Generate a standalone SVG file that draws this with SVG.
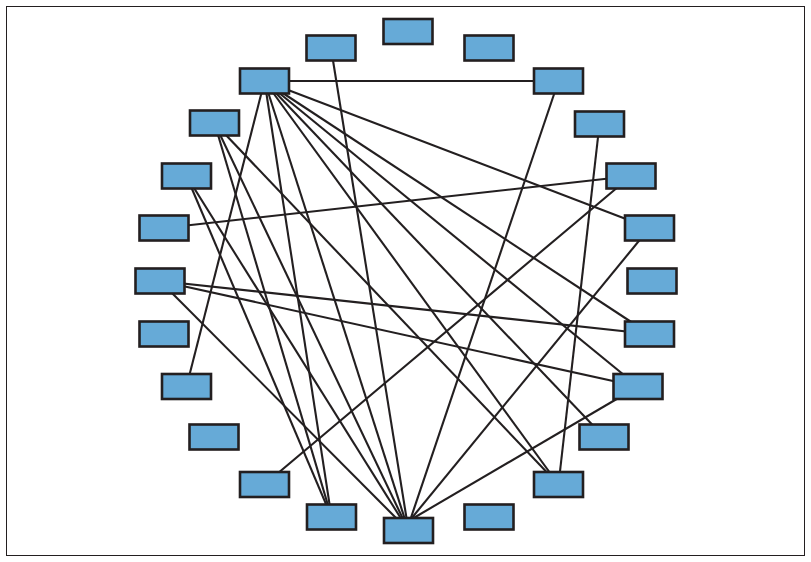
<svg xmlns="http://www.w3.org/2000/svg" width="811" height="562" viewBox="0 0 811 562">
<style>
.n{fill:#66aad7;stroke:#231f20;stroke-width:2.6}
.e line{stroke:#231f20;stroke-width:2.1}
</style>
<rect x="0" y="0" width="811" height="562" fill="#ffffff"/>
<rect x="6.5" y="6.5" width="798" height="549" fill="none" stroke="#231f20" stroke-width="1"/>
<g id="connectors" class="e">
<line x1="264.5" y1="81" x2="558.5" y2="81"/>
<line x1="264.5" y1="81" x2="649.5" y2="228"/>
<line x1="264.5" y1="81" x2="649.5" y2="334"/>
<line x1="264.5" y1="81" x2="638" y2="386.5"/>
<line x1="264.5" y1="81" x2="604" y2="437"/>
<line x1="264.5" y1="81" x2="558.5" y2="484.5"/>
<line x1="264.5" y1="81" x2="408.5" y2="530.5"/>
<line x1="264.5" y1="81" x2="331.5" y2="517"/>
<line x1="264.5" y1="81" x2="186.5" y2="386.5"/>
<line x1="331" y1="48" x2="408.5" y2="530.5"/>
<line x1="558.5" y1="81" x2="408.5" y2="525"/>
<line x1="599.5" y1="124" x2="558.5" y2="484.5"/>
<line x1="631" y1="176" x2="264.5" y2="484.5"/>
<line x1="164" y1="228" x2="631" y2="176"/>
<line x1="649.5" y1="228" x2="408.5" y2="522"/>
<line x1="638" y1="386.5" x2="408.5" y2="521"/>
<line x1="160" y1="281" x2="649.5" y2="334"/>
<line x1="160" y1="281" x2="638" y2="386.5"/>
<line x1="160" y1="281" x2="408.5" y2="530.5"/>
<line x1="214.5" y1="123" x2="331.5" y2="517"/>
<line x1="214.5" y1="123" x2="408.5" y2="530.5"/>
<line x1="214.5" y1="123" x2="558.5" y2="484.5"/>
<line x1="186.5" y1="176" x2="331.5" y2="517"/>
<line x1="186.5" y1="176" x2="408.5" y2="530.5"/>
</g>
<g id="n0"><rect class="n" x="383.5" y="19" width="49" height="25"/></g>
<g id="n1"><rect class="n" x="306.5" y="35.5" width="49" height="25"/></g>
<g id="n2"><rect class="n" x="464.5" y="35.5" width="49" height="25"/></g>
<g id="n3"><rect class="n" x="240" y="68.5" width="49" height="25"/></g>
<g id="n4"><rect class="n" x="534" y="68.5" width="49" height="25"/></g>
<g id="n5"><rect class="n" x="190" y="110.5" width="49" height="25"/></g>
<g id="n6"><rect class="n" x="575" y="111.5" width="49" height="25"/></g>
<g id="n7"><rect class="n" x="162" y="163.5" width="49" height="25"/></g>
<g id="n8"><rect class="n" x="606.5" y="163.5" width="49" height="25"/></g>
<g id="n9"><rect class="n" x="139.5" y="215.5" width="49" height="25"/></g>
<g id="n10"><rect class="n" x="625" y="215.5" width="49" height="25"/></g>
<g id="n11"><rect class="n" x="135.5" y="268.5" width="49" height="25"/></g>
<g id="n12"><rect class="n" x="627.5" y="268.5" width="49" height="25"/></g>
<g id="n13"><rect class="n" x="139.5" y="321.5" width="49" height="25"/></g>
<g id="n14"><rect class="n" x="625" y="321.5" width="49" height="25"/></g>
<g id="n15"><rect class="n" x="162" y="374" width="49" height="25"/></g>
<g id="n16"><rect class="n" x="613.5" y="374" width="49" height="25"/></g>
<g id="n17"><rect class="n" x="189.5" y="424.5" width="49" height="25"/></g>
<g id="n18"><rect class="n" x="579.5" y="424.5" width="49" height="25"/></g>
<g id="n19"><rect class="n" x="240" y="472" width="49" height="25"/></g>
<g id="n20"><rect class="n" x="534" y="472" width="49" height="25"/></g>
<g id="n21"><rect class="n" x="307" y="504.5" width="49" height="25"/></g>
<g id="n22"><rect class="n" x="464.5" y="504.5" width="49" height="25"/></g>
<g id="n23"><rect class="n" x="384" y="518" width="49" height="25"/></g>
</svg>
